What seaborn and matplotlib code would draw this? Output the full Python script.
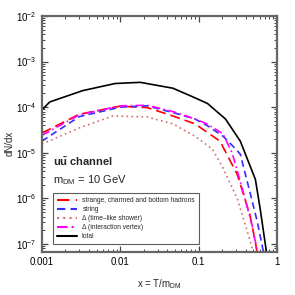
import matplotlib
matplotlib.use("Agg")
import matplotlib.pyplot as plt
import numpy as np
import pandas as pd
import seaborn as sns

# values (x = T/m_DM, dN/dx)
total_x = [0.001, 0.00126, 0.0033, 0.0086, 0.018, 0.047, 0.09, 0.13, 0.22, 0.34, 0.53, 0.61, 0.74]
total_y = [8.7e-5, 1.3e-4, 2.3e-4, 3.3e-4, 3.5e-4, 2.6e-4, 1.6e-4, 1.2e-4, 5.5e-5, 1.8e-5, 2.6e-6, 5.9e-7, 6.0e-8]

hadron_x = [0.001, 0.003, 0.01, 0.022, 0.047, 0.09, 0.187, 0.31, 0.45, 0.53, 0.56]
hadron_y = [2.7e-5, 7.0e-5, 1.05e-4, 9.8e-5, 6.4e-5, 4.3e-5, 1.8e-5, 3.4e-6, 4.4e-7, 1.1e-7, 6.0e-8]

string_x = [0.001, 0.003, 0.01, 0.022, 0.047, 0.09, 0.13, 0.205, 0.29, 0.34, 0.45, 0.56, 0.68]
string_y = [1.8e-5, 6.2e-5, 1.0e-4, 1.07e-4, 7.6e-5, 5.5e-5, 3.9e-5, 2.3e-5, 1.26e-5, 9.3e-6, 1.4e-6, 3.1e-7, 6.0e-8]

shower_x = [0.001, 0.003, 0.008, 0.022, 0.047, 0.09, 0.15, 0.205, 0.31, 0.41, 0.5]
shower_y = [1.55e-5, 3.5e-5, 6.4e-5, 6.1e-5, 4.3e-5, 2.3e-5, 1.2e-5, 4.6e-6, 1.0e-6, 2.1e-7, 6.5e-8]

vertex_x = [0.001, 0.003, 0.01, 0.022, 0.047, 0.09, 0.128, 0.205, 0.27, 0.37, 0.48, 0.57]
vertex_y = [2.4e-5, 6.8e-5, 1.07e-4, 1.1e-4, 8.0e-5, 5.5e-5, 4.3e-5, 2.6e-5, 9.5e-6, 1.4e-6, 2.6e-7, 6.0e-8]

series = [
    ("strange, charmed and bottom hadrons", hadron_x, hadron_y, "#ff0000", (0, (6, 3))),
    ("string", string_x, string_y, "#3a2bff", (0, (4, 2.5))),
    ("\u0394 (time\u2013like shower)", shower_x, shower_y, "#d07070", (0, (1, 2))),
    ("\u0394 (interaction vertex)", vertex_x, vertex_y, "#ff00ff", (0, (5, 2, 1, 2))),
    ("total", total_x, total_y, "black", "-"),
]

sns.set_style("ticks")
plt.rcParams["font.family"] = ["Liberation Sans", "DejaVu Sans"]
plt.rcParams["mathtext.fontset"] = "custom"
plt.rcParams["mathtext.rm"] = "Liberation Sans"
plt.rcParams["mathtext.it"] = "Liberation Sans:italic"
plt.rcParams["mathtext.bf"] = "Liberation Sans:bold"

fig = plt.figure(figsize=(2.95, 2.95), dpi=100)
ax = fig.add_axes([0.142, 0.146, 0.797, 0.80])

for label, xs, ys, color, ls in series:
    df = pd.DataFrame({"x": xs, "y": ys})
    sns.lineplot(data=df, x="x", y="y", ax=ax, color=color, linestyle=ls,
                 linewidth=1.2, label=label, sort=False)

ax.set_xscale("log")
ax.set_yscale("log")
ax.set_xlim(0.001, 1)
ax.set_ylim(6.7e-8, 1e-2)
ax.set_xticks([0.001, 0.01, 0.1, 1])
ax.set_xticklabels(["0.001", "0.01", "0.1", "1"])
ax.minorticks_on()

ax.tick_params(which="both", direction="in", top=True, right=True, bottom=True, left=True,
               labelsize=7, color="#444444", labelcolor="black", pad=4)
ax.tick_params(which="major", length=4, width=0.9)
ax.tick_params(which="minor", length=2, width=0.7)
for sp in ax.spines.values():
    sp.set_color("#666666")
    sp.set_linewidth(1.6)

ax.set_xlabel(r"x = T/m$_{\rm DM}$", fontsize=7, labelpad=7)
ax.set_ylabel("dN/dx", fontsize=7)
ax.yaxis.set_label_coords(-0.115, 0.46)

ax.text(0.047, 0.38, r"$\mathbf{u\bar{u}}$ channel", transform=ax.transAxes,
        fontsize=8, fontweight="bold", va="center", ha="left")
ax.text(0.047, 0.305, r"m$_{\rm DM}$ = 10 GeV", transform=ax.transAxes,
        fontsize=8, va="center", ha="left")

leg = ax.legend(loc="lower left", bbox_to_anchor=(0.047, 0.033), borderaxespad=0,
                fontsize=4.8, frameon=True, fancybox=False, handlelength=3,
                labelspacing=0.3, borderpad=0.6, handletextpad=0.8)
leg.get_frame().set_edgecolor("#333333")
leg.get_frame().set_linewidth(0.8)
for line in leg.get_lines():
    line.set_linewidth(1.5)

fig.savefig("out.png", dpi=100)
